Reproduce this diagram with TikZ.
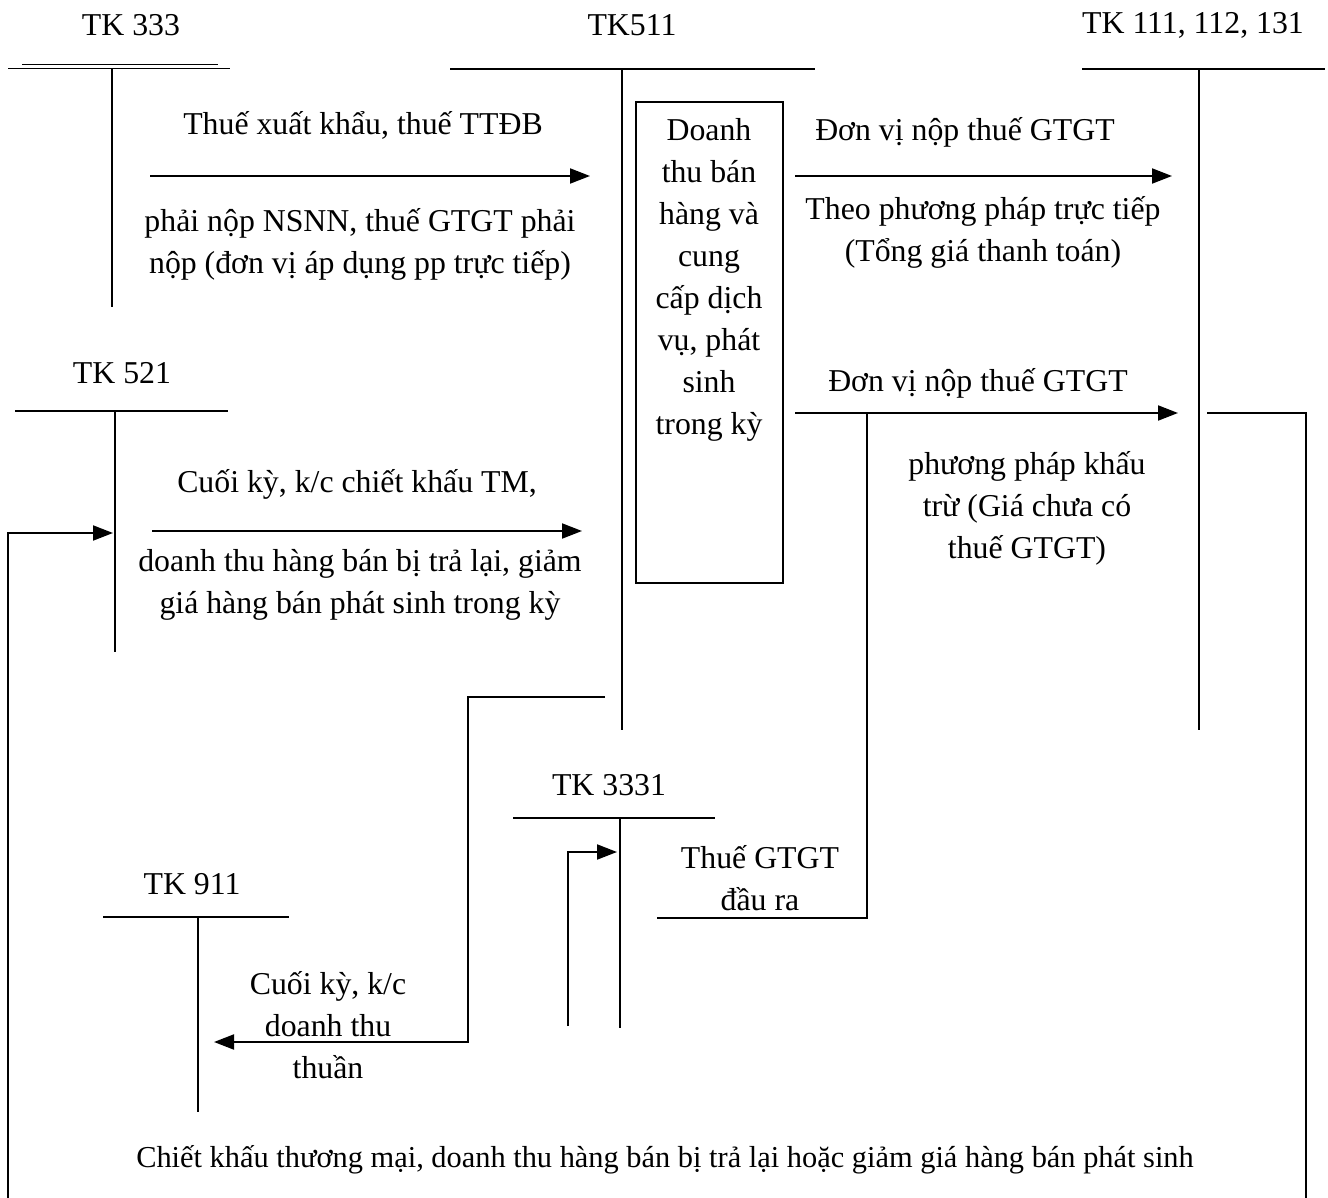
\documentclass[tikz,border=0pt]{standalone}
\usepackage{fontspec}
\setmainfont{Liberation Serif}
\usetikzlibrary{arrows.meta,positioning}

\begin{document}
\begin{tikzpicture}[x=0.5pt, y=-0.5pt, line width=1pt,
  lbl/.style={font=\fontsize{15.9}{21}\selectfont, inner sep=0pt, align=center},
  tip/.style={-{Triangle[length=10pt,width=7.5pt]}}]
  \useasboundingbox (0,0) rectangle (1328,1198);

  % T accounts
  \node[lbl] (n333) at (131,25) {TK 333};
  \draw (8,69) -- (230,69)   (22,65) -- (218,65) [line width=0.5pt];
  \draw (112,69) -- (112,307);

  \node[lbl] (n511) at (632,25) {TK511};
  \draw (450,69) -- (815,69)   (622,69) -- (622,730);

  \node[lbl] (n111) at (1193,25) {TK 111, 112, 131};
  \draw (1082,69) -- (1325,69)   (1199,69) -- (1199,730);

  \node[lbl] (n521) at (122,373) {TK 521};
  \draw (15,411) -- (228,411)   (115,411) -- (115,652);

  \node[lbl] (n3331) at (609,785) {TK 3331};
  \draw (513,818) -- (715,818)   (620,818) -- (620,1028);

  \node[lbl] (n911) at (192,884) {TK 911};
  \draw (103,917) -- (289,917)   (198,917) -- (198,1112);

  % revenue box
  \node[draw, minimum width=73.5pt, minimum height=240.5pt, inner sep=0pt] (box) at (709.5,342.5) {};
  \node[lbl] (boxtxt) at (709,280) {Doanh\\thu bán\\hàng và\\cung\\cấp dịch\\vụ, phát\\sinh\\trong kỳ};

  % 333 -> 511
  \coordinate (s1) at (150,176);  \coordinate (e1) at (590,176);
  \draw[tip] (s1) -- (e1);
  \node[lbl] (t1a) at (363,125) {Thuế xuất khẩu, thuế TTĐB};
  \node[lbl] (t1b) at (360,244) {phải nộp NSNN, thuế GTGT phải\\nộp (đơn vị áp dụng pp trực tiếp)};

  % 511 -> 111 (direct method)
  \coordinate (s2) at (795,176);  \coordinate (e2) at (1172,176);
  \draw[tip] (s2) -- (e2);
  \node[lbl] (t2a) at (965,132) {Đơn vị nộp thuế GTGT};
  \node[lbl] (t2b) at (983,232) {Theo phương pháp trực tiếp\\(Tổng giá thanh toán)};

  % 511 -> 111 (deduction method), 3331 share
  \coordinate (s3) at (795,413);  \coordinate (e3) at (1178,413);
  \draw[tip] (s3) -- (e3);
  \coordinate (v3) at (867,413);  \coordinate (g3) at (657,918);
  \draw (v3) |- (g3);
  \node[lbl] (t3a) at (978,383) {Đơn vị nộp thuế GTGT};
  \node[lbl] (t3b) at (1027,508) {phương pháp khấu\\trừ (Giá chưa có\\thuế GTGT)};
  \node[lbl] (t3c) at (760,878) {Thuế GTGT\\đầu ra};

  % 521 -> 511
  \coordinate (s4) at (152,531);  \coordinate (e4) at (582,531);
  \draw[tip] (s4) -- (e4);
  \node[lbl] (t4a) at (357,484) {Cuối kỳ, k/c chiết khấu TM,};
  \node[lbl] (t4b) at (360,585) {doanh thu hàng bán bị trả lại, giảm\\giá hàng bán phát sinh trong kỳ};

  % 511 -> 911
  \coordinate (s5) at (605,697);  \coordinate (e5) at (214,1042);
  \draw[tip] (s5) -| (468,1042) -- (e5);
  \node[lbl] (t5) at (328,1025) {Cuối kỳ, k/c\\doanh thu\\thuần};

  % 3331 debit
  \coordinate (s6) at (568,1026);  \coordinate (e6) at (617,852);
  \draw[tip] (s6) |- (e6);

  % 111 -> 521
  \coordinate (s7) at (1207,413);  \coordinate (c7) at (1306,1198);
  \draw (s7) -| (c7);
  \coordinate (s8) at (8,1198);  \coordinate (e8) at (113,533);
  \draw[tip] (s8) |- (e8);
  \node[lbl, font=\fontsize{15.2}{20}\selectfont] (t7) at (665,1160) {Chiết khấu thương mại, doanh thu hàng bán bị trả lại hoặc giảm giá hàng bán phát sinh};
\end{tikzpicture}
\end{document}
